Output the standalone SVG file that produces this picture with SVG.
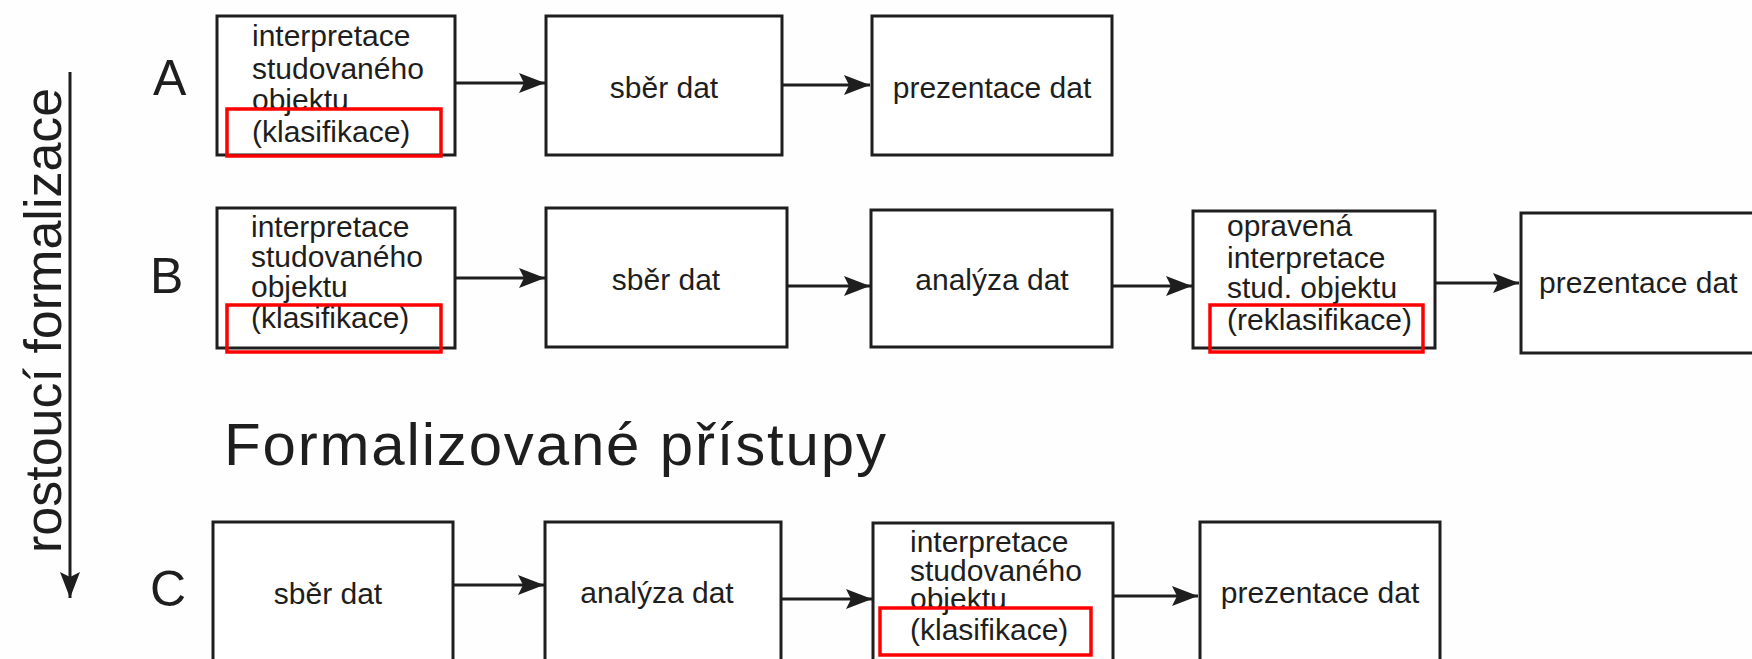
<svg xmlns="http://www.w3.org/2000/svg" width="1752" height="659" viewBox="0 0 1752 659">
<style>
.box{fill:#ffffff;stroke:#1e1e1e;stroke-width:3}
.hl{fill:none;stroke:#ff0000;stroke-width:3.5}
.t{font-family:"Liberation Sans",Arial,sans-serif;font-size:30px;fill:#1e1e1e}
.c{text-anchor:middle}
.lbl{font-family:"Liberation Sans",Arial,sans-serif;font-size:50px;fill:#1e1e1e}
.conn{stroke:#1e1e1e;stroke-width:3;fill:none}
</style>
<defs>
<marker id="ah" markerUnits="userSpaceOnUse" markerWidth="28" markerHeight="24" viewBox="0 0 28 24" refX="26" refY="12" orient="auto">
<path d="M0,2 L26,12 L0,22 L5,12 Z" fill="#1e1e1e"/>
</marker>
</defs>
<rect width="1752" height="659" fill="#fefefe"/>

<g id="axis">
<text class="lbl" transform="translate(61,553) rotate(-90)" style="font-size:52px">rostoucí formalizace</text>
</g>

<g id="labels">
<text class="lbl" x="153" y="95">A</text>
<text class="lbl" x="150" y="293">B</text>
<text class="lbl" x="150" y="606">C</text>
<text class="lbl" x="224" y="465" style="font-size:60px" textLength="662" lengthAdjust="spacing">Formalizované přístupy</text>
</g>

<g id="connectors">
<line class="conn" x1="70" y1="72" x2="70" y2="598" marker-end="url(#ah)"/>
<line class="conn" x1="455" y1="83" x2="545" y2="83" marker-end="url(#ah)"/>
<line class="conn" x1="782" y1="85" x2="870" y2="85" marker-end="url(#ah)"/>
<line class="conn" x1="455" y1="278" x2="545" y2="278" marker-end="url(#ah)"/>
<line class="conn" x1="787" y1="286" x2="870" y2="286" marker-end="url(#ah)"/>
<line class="conn" x1="1112" y1="286" x2="1192" y2="286" marker-end="url(#ah)"/>
<line class="conn" x1="1435" y1="283" x2="1519" y2="283" marker-end="url(#ah)"/>
<line class="conn" x1="453" y1="585" x2="544" y2="585" marker-end="url(#ah)"/>
<line class="conn" x1="781" y1="599" x2="872" y2="599" marker-end="url(#ah)"/>
<line class="conn" x1="1113" y1="596" x2="1198" y2="596" marker-end="url(#ah)"/>
</g>

<g id="A1">
<rect class="box" x="217" y="16" width="238" height="139"/>
<text class="t" x="252" y="46">interpretace</text>
<text class="t" x="252" y="79">studovaného</text>
<text class="t" x="252" y="110">objektu</text>
<text class="t" x="252" y="142">(klasifikace)</text>
<rect class="hl" x="227" y="109" width="214" height="47"/>
</g>
<g id="A2">
<rect class="box" x="546" y="16" width="236" height="139"/>
<text class="t c" x="664" y="98">sběr dat</text>
</g>
<g id="A3">
<rect class="box" x="872" y="16" width="240" height="139"/>
<text class="t c" x="992" y="98">prezentace dat</text>
</g>

<g id="B1">
<rect class="box" x="217" y="208" width="238" height="140"/>
<text class="t" x="251" y="237">interpretace</text>
<text class="t" x="251" y="267">studovaného</text>
<text class="t" x="251" y="297">objektu</text>
<text class="t" x="251" y="328">(klasifikace)</text>
<rect class="hl" x="227" y="305" width="214" height="47"/>
</g>
<g id="B2">
<rect class="box" x="546" y="208" width="241" height="139"/>
<text class="t c" x="666" y="290">sběr dat</text>
</g>
<g id="B3">
<rect class="box" x="871" y="210" width="241" height="137"/>
<text class="t c" x="992" y="290">analýza dat</text>
</g>
<g id="B4">
<rect class="box" x="1193" y="211" width="242" height="137"/>
<text class="t" x="1227" y="236">opravená</text>
<text class="t" x="1227" y="268">interpretace</text>
<text class="t" x="1227" y="298">stud. objektu</text>
<text class="t" x="1227" y="330">(reklasifikace)</text>
<rect class="hl" x="1210" y="305" width="213" height="47"/>
</g>
<g id="B5">
<rect class="box" x="1521" y="213" width="260" height="140"/>
<text class="t" x="1539" y="293">prezentace dat</text>
</g>

<g id="C1">
<rect class="box" x="213" y="522" width="240" height="160"/>
<text class="t c" x="328" y="604">sběr dat</text>
</g>
<g id="C2">
<rect class="box" x="545" y="522" width="236" height="160"/>
<text class="t c" x="657" y="603">analýza dat</text>
</g>
<g id="C3">
<rect class="box" x="873" y="523" width="240" height="160"/>
<text class="t" x="910" y="552">interpretace</text>
<text class="t" x="910" y="581">studovaného</text>
<text class="t" x="910" y="609">objektu</text>
<text class="t" x="910" y="640">(klasifikace)</text>
<rect class="hl" x="880" y="608" width="211" height="47"/>
</g>
<g id="C4">
<rect class="box" x="1200" y="522" width="240" height="160"/>
<text class="t c" x="1320" y="603">prezentace dat</text>
</g>
</svg>
